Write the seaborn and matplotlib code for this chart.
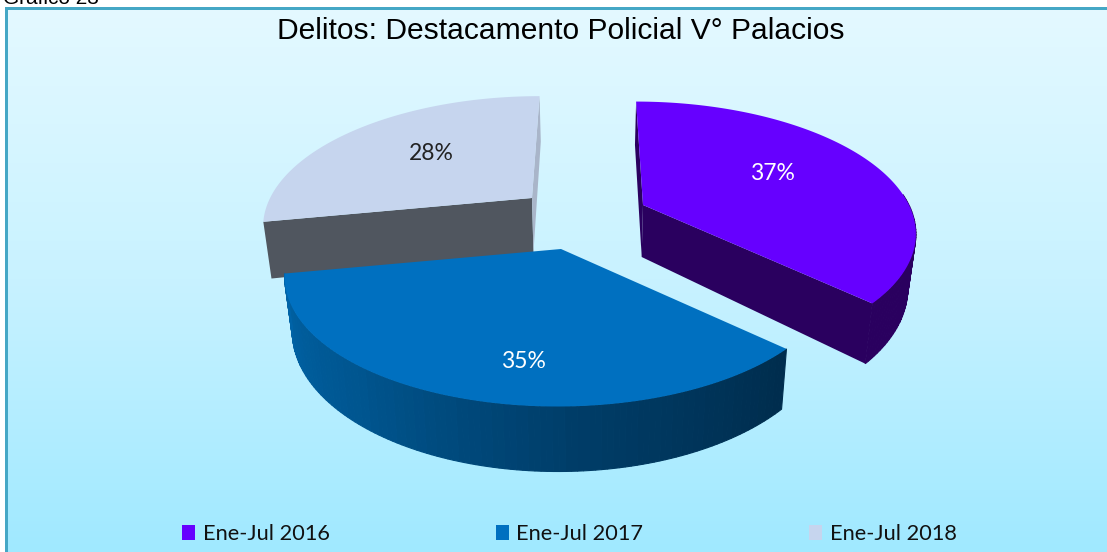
import numpy as np
import seaborn as sns
import matplotlib.pyplot as plt
from matplotlib.patches import Patch, Polygon, Rectangle

title = 'Delitos: Destacamento Policial V° Palacios'
caption = 'Gráfico 23'
categories = ['Ene-Jul 2016', 'Ene-Jul 2017', 'Ene-Jul 2018']
values = [37, 35, 28]

top_colors = ['#6600ff', '#0070c0', '#c6d5ee']
wall_colors = ['#2a005f', '#002d4e', '#50565f']
thin_colors = ['#2a005f', '#002d4e', '#a9b5c9']

# where each exploded slice has its tip, in pixels
tips = [(643, 205), (561, 249), (532, 198)]
sizes = [0.985, 1.0, 0.97]
depths = [1.0, 1.0, 1.05]
label_pos = [(772, 174), (523, 361), (431, 154)]
label_colors = ['white', 'white', '#222222']

# the tilted disc
RX, RY, PERSP, DEPTH = 270, 126, 0.2, 52
VANISH_X, BACK_LEAN, BOTTOM_SHRINK = 590, 0.13, 0.025


def project(theta, i, drop=0.0):
    # theta clockwise from 12 o'clock, nearer points are drawn larger
    tip = tips[i]
    u, v = np.sin(theta), np.cos(theta)
    s = 1 / (1 + PERSP * v)
    x = tip[0] + sizes[i] * RX * u * s + BACK_LEAN * (VANISH_X - tip[0]) * v
    y = tip[1] - sizes[i] * RY * v * s + drop * depths[i] * DEPTH * s
    x = x + drop * BOTTOM_SHRINK * (VANISH_X - x)
    return x, y


def tip_bottom(i):
    x = tips[i][0] + BOTTOM_SHRINK * (VANISH_X - tips[i][0])
    return x, tips[i][1] + depths[i] * DEPTH


sns.set_theme(style='white')
fig, ax = plt.subplots(figsize=(11.07, 5.52), dpi=100)
ax.set_position([0, 0, 1, 1])
ax.axis('off')

cmap = sns.blend_palette(['#e4f9ff', '#c8f2ff', '#a0e9ff'], as_cmap=True)
ax.imshow(np.linspace(0, 1, 256).reshape(-1, 1), cmap=cmap, aspect='auto',
          extent=(5, 1107, 552, 7), zorder=0)
ax.add_patch(Rectangle((5, 7), 3, 545, color='#45a7c5', lw=0, zorder=1))
ax.add_patch(Rectangle((5, 7), 1102, 2.5, color='#45a7c5', lw=0, zorder=1))
ax.set_xlim(0, 1107)
ax.set_ylim(552, 0)

edges = np.cumsum([0] + values) / sum(values) * 2 * np.pi
side_ramp = sns.blend_palette(['#002d4e', '#003d68', '#00558f', '#0064a8'], 60)

# back slices first, the front one goes over them
for i, z in ((2, 2), (0, 6), (1, 12)):
    t0, t1 = edges[i], edges[i + 1]
    arc = np.linspace(t0, t1, 120)

    # flat faces left by the explosion, only these two slices show them
    if i != 1:
        ax.add_patch(Polygon([project(t0, i), project(t0, i, 1), tip_bottom(i), tips[i]],
                             color=wall_colors[i], lw=0, zorder=z))
        ax.add_patch(Polygon([project(t1, i), project(t1, i, 1), tip_bottom(i), tips[i]],
                             color=thin_colors[i], lw=0, zorder=z))

    # outer wall, blue one is shaded along the arc
    if i != 2:
        for k in range(len(arc) - 1):
            if np.cos(arc[k]) > 0.1:
                continue
            pts = [project(arc[k], i), project(arc[k + 1], i),
                   project(arc[k + 1], i, 1), project(arc[k], i, 1)]
            col = side_ramp[int(k / (len(arc) - 1) * 59)] if i == 1 else wall_colors[i]
            ax.add_patch(Polygon(pts, color=col, lw=0.8, zorder=z + 1))

    x, y = project(arc, i)
    top = np.column_stack([np.r_[tips[i][0], x], np.r_[tips[i][1], y]])
    ax.add_patch(Polygon(top, color=top_colors[i], lw=0, zorder=z + 2))

for (x, y), val, col in zip(label_pos, values, label_colors):
    ax.text(x, y, f'{val}%', color=col, ha='center', va='center',
            fontsize=16.5, family='Lato', zorder=20)

ax.text(561, 31, title, ha='center', va='center', fontsize=21.6,
        family='Liberation Sans', color='black', zorder=20)
ax.text(3, 4, caption, ha='left', va='baseline', fontsize=15,
        family='Liberation Sans', color='black', zorder=20)

handles = [Patch(color=c, lw=0) for c in top_colors]
leg = ax.legend(handles, categories, ncol=3, frameon=False, loc='center',
                bbox_to_anchor=(569.5 / 1107, 1 - 534 / 552), fontsize=15.7,
                handlelength=0.6, handleheight=0.65, handletextpad=0.35,
                columnspacing=7.61, borderpad=0, borderaxespad=0)
plt.setp(leg.get_texts(), family='Lato', color='#111111')
leg.set_zorder(20)

plt.savefig('out.png', dpi=100)
